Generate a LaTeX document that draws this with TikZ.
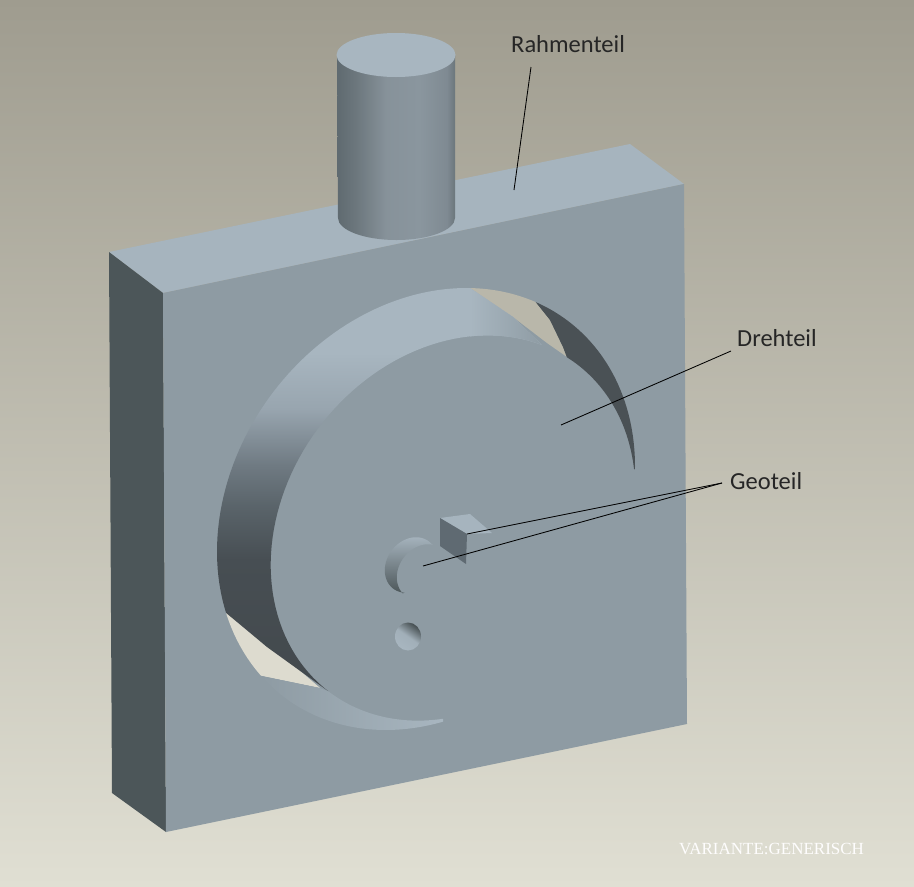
\documentclass[tikz,border=0pt]{standalone}
\usepackage{fontspec}
\setmainfont{Carlito}
\newfontfamily\varfont{Liberation Serif}
\definecolor{faceC}{HTML}{8E9BA3}
\definecolor{topC}{HTML}{A6B4BE}
\definecolor{leftC}{HTML}{4C5659}
\definecolor{darkC}{HTML}{4A5155}
\definecolor{beigeA}{HTML}{B9B7AA}
\definecolor{beigeB}{HTML}{DDDBCF}
\definecolor{bandA}{HTML}{A8B6C0}
\definecolor{bgTop}{HTML}{9F9C8F}
\definecolor{bgBot}{HTML}{E0DFD3}
\definecolor{keyC}{HTML}{5F6A72}
\pgfdeclareverticalshading{bandshade}{100bp}{
  rgb(0bp)=(0.262,0.286,0.302);
  rgb(25bp)=(0.262,0.286,0.302);
  rgb(41.3bp)=(0.278,0.306,0.325);
  rgb(48bp)=(0.353,0.392,0.416);
  rgb(53bp)=(0.435,0.478,0.510);
  rgb(60bp)=(0.596,0.647,0.686);
  rgb(67bp)=(0.659,0.714,0.753);
  rgb(100bp)=(0.659,0.714,0.753)}
\pgfdeclarehorizontalshading{cylshade}{100bp}{
  rgb(0bp)=(0.373,0.416,0.439);
  rgb(25bp)=(0.373,0.416,0.439);
  rgb(33bp)=(0.424,0.467,0.490);
  rgb(46bp)=(0.529,0.573,0.604);
  rgb(60bp)=(0.541,0.588,0.620);
  rgb(71.6bp)=(0.498,0.541,0.573);
  rgb(75bp)=(0.420,0.463,0.486);
  rgb(100bp)=(0.420,0.463,0.486)}
\tikzset{
  leader/.style={draw=black,line width=0.85pt},
  label/.style={font=\fontsize{24.5}{28}\selectfont,text=black!85,inner sep=0pt,anchor=west},
  arcplot/.style={samples=70,variable=\t}
}
% rim of the opening
\def\hx#1{426+209*cos(#1)+1.2*sin(#1)}
\def\hy#1{509-43.8*cos(#1)+216.6*sin(#1)}
% rim of the disc
\def\dx#1{453+182.3*cos(#1)+1.1*sin(#1)}
\def\dy#1{528-38.2*cos(#1)+188.8*sin(#1)}
% boss, back and front
\def\bx#1{411+26.2*cos(#1)+0.15*sin(#1)}
\def\by#1{565-5.5*cos(#1)+27.2*sin(#1)}
\def\fx#1{423+26.2*cos(#1)+0.15*sin(#1)}
\def\fy#1{572-5.5*cos(#1)+27.2*sin(#1)}
\def\bandpath{
  plot[arcplot,domain=-77.5:-196.6] ({\hx{\t}},{\hy{\t}})
  -- (267,647)
  -- plot[arcplot,domain=133.4:299.5] ({\dx{\t}},{\dy{\t}})
  -- (513,317) -- cycle}
\begin{document}
\begin{tikzpicture}[x=1pt,y=-1pt]
\useasboundingbox (0,0) rectangle (914,887);
\shade[top color=bgTop,bottom color=bgBot] (0,0) rectangle (914,887);
% box
\fill[topC] (109,252) -- (630,144) -- (684,184) -- (163,293) -- cycle;
\fill[leftC] (109,252) -- (163,293) -- (166,832) -- (112,793) -- cycle;
% cylinder
\shade[shading=cylshade,shading angle=0] (337,55) -- (338,218) arc[start angle=180,end angle=360,x radius=58.5pt,y radius=22pt] -- (455,55) -- cycle;
\fill[bandA] (396,55) ellipse[x radius=59.5pt,y radius=22pt];
\fill[faceC] (163,293) -- (684,184) -- (687,724) -- (166,832) -- cycle;
% opening
\fill[beigeA] plot[arcplot,domain=-77.5:-58] ({\hx{\t}},{\hy{\t}}) -- (550,320) -- (563,347) -- (567,357) -- (547,343) -- (513,317) -- cycle;
\fill[darkC] plot[arcplot,domain=-58:1] ({\hx{\t}},{\hy{\t}})
  -- plot[arcplot,domain=-6.3:-51] ({\dx{\t}},{\dy{\t}}) -- (563,347) -- (550,320) -- cycle;
\fill[beigeB] plot[arcplot,domain=163.4:142.4] ({\hx{\t}},{\hy{\t}}) -- (320,688) -- (290,662) -- (250,632) -- cycle;
\shade[shading=bandshade,shading angle=0] \bandpath;
\begin{scope}
  \clip \bandpath;
  \shade[left color=bandA,right color=faceC] (470,280) rectangle (545,350);
\end{scope}
\shade[left color=faceC,right color=bandA] plot[arcplot,domain=142.4:85.6] ({\hx{\t}},{\hy{\t}})
  -- plot[arcplot,domain=93.5:133.4] ({\dx{\t}},{\dy{\t}}) -- (320,688) -- cycle;
% boss
\shade[top color=bandA!85!faceC,bottom color=leftC] plot[arcplot,domain=105:326] ({\bx{\t}},{\by{\t}})
  -- plot[arcplot,domain=293.4:141] ({\fx{\t}},{\fy{\t}}) -- cycle;
% small hole
\shade[top color=leftC!90!black,bottom color=bandA,middle color=bandA!75!faceC,shading angle=-35] (408,636.5) ellipse[x radius=13pt,y radius=14pt];
% key
\fill[bandA!92!faceC] (440,518) -- (470,514) -- (492,533) -- (467,534) -- cycle;
\fill[keyC] (440,518) -- (467,534) -- (466,564) -- (440,546) -- cycle;
% labels
\node[label] (rahmen) at (511,44) {Rahmenteil};
\node[label] (dreh) at (737,338) {Drehteil};
\node[label] (geo) at (730,481) {Geoteil};
\node[inner sep=0pt,anchor=west,text=white!96!beigeB,font=\varfont\fontsize{17}{20}\selectfont] (variante) at (679,849) {VARIANTE:GENERISCH};
% leaders
\coordinate (rahmenTop) at (531,67);
\coordinate (rahmenEnd) at (514,190);
\coordinate (drehTop) at (731,351);
\coordinate (drehEnd) at (561,425);
\coordinate (geoApex) at (722,483);
\coordinate (geoEndA) at (467,534);
\coordinate (geoEndB) at (423,566);
\draw[leader] (rahmenTop) -- (rahmenEnd);
\draw[leader] (drehTop) -- (drehEnd);
\draw[leader] (geoApex) -- (geoEndA);
\draw[leader] (geoApex) -- (geoEndB);
\end{tikzpicture}
\end{document}
